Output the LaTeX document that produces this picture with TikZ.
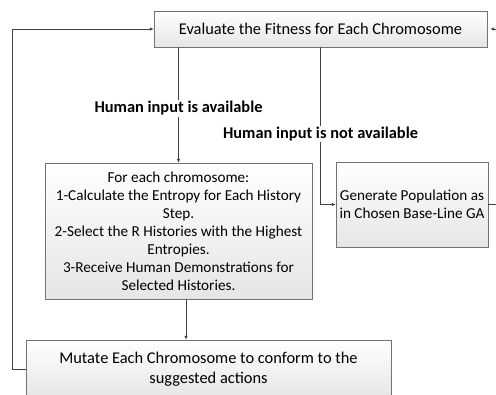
\documentclass[tikz,border=0pt]{standalone}
\usepackage{fontspec}
\setmainfont{Carlito}
\usetikzlibrary{arrows.meta,shadows}

\begin{document}
\begin{tikzpicture}[x=1pt,y=-1pt,font=\fontsize{16.4}{20}\selectfont]
\tikzstyle{box}=[draw=black!55,top color=white,bottom color=black!10,drop shadow={opacity=0.25,shadow xshift=1pt,shadow yshift=-1pt},align=center,inner sep=2pt];
\tikzstyle{small}=[font=\fontsize{15.2}{18}\selectfont];
\tikzstyle{conn}=[draw=black!75,line width=0.8pt,-{Latex[length=4pt,width=3.5pt]}];
\tikzstyle{lbl}=[fill=white,font=\fontsize{16.4}{20}\selectfont\bfseries,inner sep=1pt];
\useasboundingbox[fill=white] (0,0) rectangle (496,395);
\node (eval) [box,minimum width=333pt,minimum height=36pt] at (320.5,29) {Evaluate the Fitness for Each Chromosome};
\node (hist) [box,small,minimum width=267pt,minimum height=136pt] at (178.5,231) {For each chromosome:\\
1-Calculate the Entropy for Each History\\
Step.\\
2-Select the R Histories with the Highest\\
Entropies.\\
3-Receive Human Demonstrations for\\
Selected Histories.};
\node (gen) [box,small,minimum width=152pt,minimum height=85pt] at (412,204.5) {Generate Population as\\
in Chosen Base-Line GA};
\node (mut) [box,minimum width=365pt,minimum height=58pt] at (208.5,369) {Mutate Each Chromosome to conform to the\\
suggested actions};
\coordinate (lft) at (12,29);
\coordinate (rgt) at (502,29);
\draw[conn] (eval.south -| hist.north) -- node[lbl,pos=0.53] {Human input is available} (hist.north);
\draw[conn] (eval.south) |- node[lbl,pos=0.276] {Human input is not available} (gen.west);
\draw[conn] ([xshift=7.5pt]hist.south) -- ([xshift=7.5pt]hist.south |- mut.north);
\draw[conn] (mut.west) -| (lft) -- (eval.west);
\draw[conn] (gen.east) -| (rgt) -- ([xshift=3pt]eval.east);
\end{tikzpicture}
\end{document}
